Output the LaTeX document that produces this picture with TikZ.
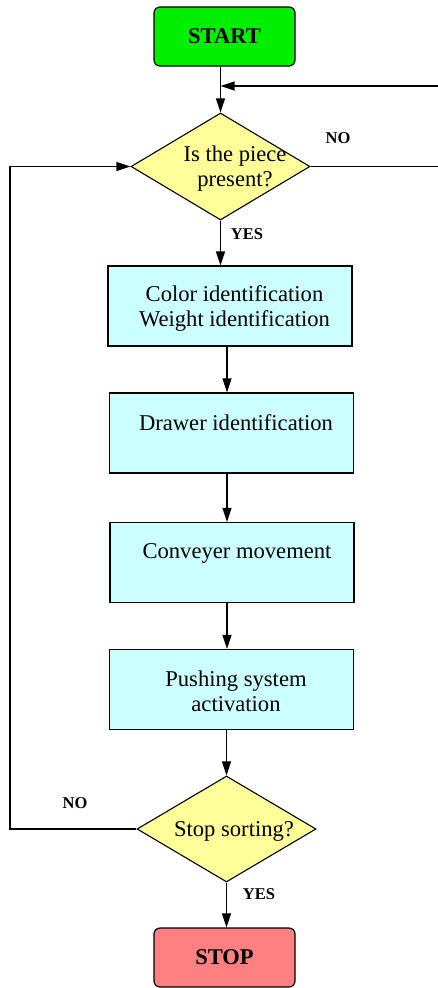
\documentclass[tikz,border=0pt]{standalone}
\usepackage{fontspec}
\setmainfont{Liberation Serif}
\usetikzlibrary{shapes.geometric,arrows.meta,calc}
\definecolor{startgreen}{RGB}{0,238,0}
\definecolor{stopred}{RGB}{255,128,128}
\definecolor{boxcyan}{RGB}{204,255,255}
\definecolor{diayellow}{RGB}{255,255,153}
\begin{document}
\begin{tikzpicture}[x=1pt,y=-1pt,
  every node/.style={font=\fontsize{22.6}{25}\selectfont},
  term/.style={draw,line width=1.2pt,rounded corners=6pt,minimum width=141pt,minimum height=59pt,inner sep=0pt,font=\fontsize{22.5}{25}\selectfont\bfseries},
  procbox/.style={draw,line width=1.1pt,fill=boxcyan,minimum width=244pt,minimum height=80pt,inner sep=0pt},
  decision/.style={draw,line width=1.1pt,fill=diayellow,diamond,minimum width=179pt,minimum height=107pt,inner sep=0pt},
  txt/.style={align=center,inner sep=0pt},
  lbl/.style={font=\fontsize{16.5}{18}\selectfont\bfseries,inner sep=0pt},
  conn/.style={line width=1.2pt},
  arr/.style={conn,-{Triangle[length=14pt,width=9pt]}}
]
\useasboundingbox (0,0) rectangle (438,988);

\node[term,fill=startgreen] (start) at (224.5,36.5) {START};
\node[decision] (d1) at (220.5,166.5) {};
\node[txt] (t1) at (235,169) {Is the piece\\present?};

\node[procbox] (b1) at (230,306) {};
\node[txt] (tb1) at (234.5,308) {Color identification\\Weight identification};
\node[procbox] (b2) at (231.5,433) {};
\node[txt] (tb2) at (236,423) {Drawer identification};
\node[procbox] (b3) at (232,562.5) {};
\node[txt] (tb3) at (237,553) {Conveyer movement};
\node[procbox] (b4) at (231.5,689.5) {};
\node[txt] (tb4) at (236,691) {Pushing system\\activation};

\node[decision,minimum height=106pt] (d2) at (226.5,829) {};
\node[txt] (t2) at (234,831) {Stop sorting?};
\node[term,fill=stopred] (stop) at (224.5,957.5) {STOP};

\node[lbl] (no1) at (338,138) {NO};
\node[lbl] (yes1) at (247,234) {YES};
\node[lbl] (no2) at (75,803) {NO};
\node[lbl] (yes2) at (259,894) {YES};

\coordinate (rA) at (438,164);
\coordinate (rB) at (438,86);
\coordinate (lA) at (10,829);
\coordinate (ax) at (227,0);

\draw[arr] (start.south -| d1.north) -- (d1.north);
\draw[arr] (rB) -- (rB -| d1.north);
\draw[conn] (d1.east) -- (d1.east -| rA);
\draw[arr] (d1.south) -- (d1.south |- b1.north);
\draw[arr] (b1.south -| ax) -- (b2.north -| ax);
\draw[arr] (b2.south -| ax) -- (b3.north -| ax);
\draw[arr] (b3.south -| ax) -- (b4.north -| ax);
\draw[arr] (b4.south -| d2.north) -- (d2.north);
\draw[arr] (d2.south) -- (d2.south |- stop.north);
\draw[arr] (d2.west) -- (lA) |- (d1.west);
\end{tikzpicture}
\end{document}
